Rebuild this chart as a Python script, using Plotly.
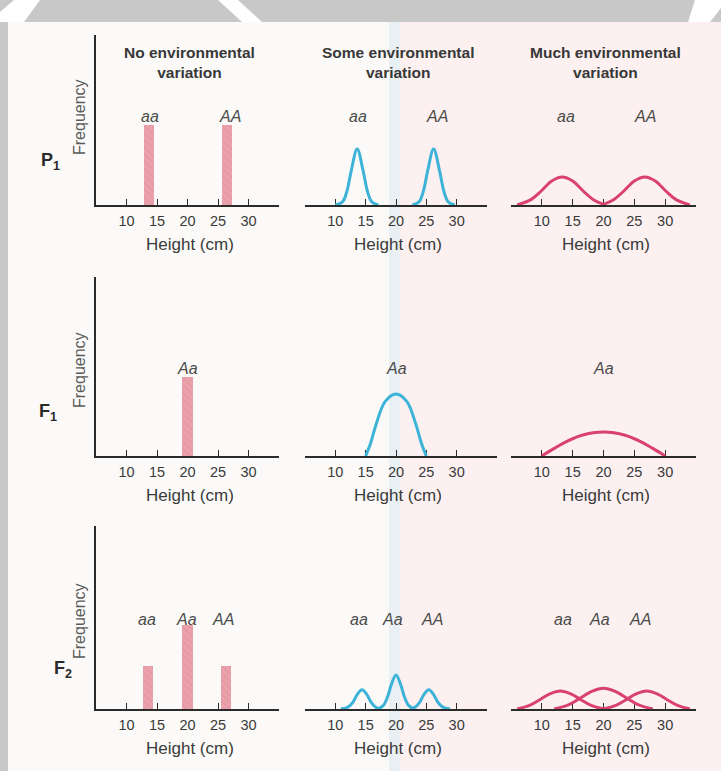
import plotly.graph_objects as go

# ---------------------------------------------------------------------------
# Data
# ---------------------------------------------------------------------------
COLUMN_TITLES = ["No environmental<br>variation",
                 "Some environmental<br>variation",
                 "Much environmental<br>variation"]
ROW_LABELS = ["P<sub>1</sub>", "F<sub>1</sub>", "F<sub>2</sub>"]
HEIGHT_TICKS = [10, 15, 20, 25, 30]
HEIGHT_RANGE = [5, 35]

# No environmental variation: one bar per genotype (height in cm, frequency)
P1_BAR_X = [13.7, 26.5]
P1_BAR_Y = [10.0, 10.0]
F1_BAR_X = [20.0]
F1_BAR_Y = [9.9]
F2_BAR_X = [13.5, 20.0, 26.3]
F2_BAR_Y = [5.4, 10.5, 5.4]

# Some environmental variation: narrow distributions (height, frequency)
P1_SOME_AA_LOW_X = [10.0, 11.2, 11.9, 12.6, 13.6, 14.6, 15.3, 16.0, 17.1]
P1_SOME_AA_LOW_Y = [0.0, 0.4, 1.7, 4.2, 7.0, 4.2, 1.7, 0.4, 0.0]
P1_SOME_AA_HIGH_X = [22.7, 23.8, 24.5, 25.2, 26.2, 27.2, 27.9, 28.6, 29.7]
P1_SOME_AA_HIGH_Y = [0.0, 0.4, 1.7, 4.2, 7.0, 4.2, 1.7, 0.4, 0.0]
F1_SOME_X = [15.0, 15.8, 16.7, 18.2, 20.0, 21.8, 23.3, 24.2, 25.0]
F1_SOME_Y = [0.0, 1.55, 3.9, 6.8, 7.75, 6.8, 3.9, 1.55, 0.0]
F2_SOME_LOW_X = [10.9, 12.1, 12.9, 13.6, 14.4, 15.2, 15.9, 16.6, 17.5]
F2_SOME_LOW_Y = [0.0, 0.24, 0.84, 1.8, 2.4, 1.8, 0.84, 0.24, 0.0]
F2_SOME_MID_X = [17.0, 17.9, 18.6, 19.3, 20.0, 20.7, 21.4, 22.1, 23.0]
F2_SOME_MID_Y = [0.0, 0.43, 1.5, 3.2, 4.25, 3.2, 1.5, 0.43, 0.0]
F2_SOME_HIGH_X = [22.3, 23.2, 23.9, 24.6, 25.4, 26.2, 26.9, 27.7, 28.9]
F2_SOME_HIGH_Y = [0.0, 0.24, 0.84, 1.8, 2.4, 1.8, 0.84, 0.24, 0.0]

# Much environmental variation: broad distributions (height, frequency)
P1_MUCH_LOW_X = [6.0, 8.3, 9.9, 11.6, 13.3, 15.0, 16.7, 18.3, 20.3]
P1_MUCH_LOW_Y = [0.0, 0.7, 1.75, 3.0, 3.5, 3.0, 1.75, 0.7, 0.0]
P1_MUCH_HIGH_X = [19.7, 21.7, 23.3, 25.0, 26.7, 28.4, 30.1, 31.7, 34.0]
P1_MUCH_HIGH_Y = [0.0, 0.7, 1.75, 3.0, 3.5, 3.0, 1.75, 0.7, 0.0]
F1_MUCH_X = [10.0, 12.0, 14.0, 16.5, 20.0, 23.5, 26.0, 28.0, 30.0]
F1_MUCH_Y = [0.0, 0.95, 1.8, 2.6, 3.0, 2.6, 1.8, 0.95, 0.0]
F2_MUCH_LOW_X = [6.0, 8.0, 9.6, 11.3, 13.0, 14.7, 16.4, 18.0, 20.0]
F2_MUCH_LOW_Y = [0.0, 0.45, 1.12, 1.9, 2.25, 1.9, 1.12, 0.45, 0.0]
F2_MUCH_MID_X = [12.0, 14.3, 16.1, 18.1, 20.0, 21.9, 23.9, 25.7, 28.0]
F2_MUCH_MID_Y = [0.0, 0.52, 1.3, 2.2, 2.6, 2.2, 1.3, 0.52, 0.0]
F2_MUCH_HIGH_X = [20.0, 22.0, 23.6, 25.3, 27.0, 28.7, 30.4, 32.0, 34.0]
F2_MUCH_HIGH_Y = [0.0, 0.45, 1.12, 1.9, 2.25, 1.9, 1.12, 0.45, 0.0]

# Genotype labels above each panel (text, height position in cm)
P1_GENOTYPES = ["aa", "AA"]
P1_GENO_X = [[13.8, 26.9], [13.7, 26.8], [13.9, 26.7]]
F1_GENOTYPES = ["Aa"]
F1_GENO_X = [[20.0], [20.0], [20.0]]
F2_GENOTYPES = ["aa", "Aa", "AA"]
F2_GENO_X = [[13.4, 19.9, 25.8], [13.9, 19.5, 25.9], [13.4, 19.4, 25.9]]

# ---------------------------------------------------------------------------
# Layout geometry (pixels in a 721 x 771 page)
# ---------------------------------------------------------------------------
W, H = 721, 771
COL_PX = [(96, 279), (305, 487), (511, 696)]
ROW_PX = [(35, 205), (277, 456), (526, 709)]   # (top, baseline)
PX_PER_UNIT = 8.0
GENO_LABEL_Y = [116, 368, 619]
FREQ_LABEL_Y = [117, 370, 621]
ROW_LABEL_POS = [(50, 161), (48, 412), (63, 669)]

AXIS = "#2b2b2b"
TEXT = "#3a3a3a"
BLUE = "#3cb3d7"
PINK = "#d9416f"
BAR = "#eba1ac"
FONT = "Liberation Sans, Arial, Helvetica, sans-serif"


def fx(x):
    return x / W


def fy(y):
    return 1 - y / H


fig = go.Figure()

bars = [(P1_BAR_X, P1_BAR_Y), (F1_BAR_X, F1_BAR_Y), (F2_BAR_X, F2_BAR_Y)]
some = [
    [(P1_SOME_AA_LOW_X, P1_SOME_AA_LOW_Y), (P1_SOME_AA_HIGH_X, P1_SOME_AA_HIGH_Y)],
    [(F1_SOME_X, F1_SOME_Y)],
    [(F2_SOME_LOW_X, F2_SOME_LOW_Y), (F2_SOME_MID_X, F2_SOME_MID_Y),
     (F2_SOME_HIGH_X, F2_SOME_HIGH_Y)],
]
much = [
    [(P1_MUCH_LOW_X, P1_MUCH_LOW_Y), (P1_MUCH_HIGH_X, P1_MUCH_HIGH_Y)],
    [(F1_MUCH_X, F1_MUCH_Y)],
    [(F2_MUCH_LOW_X, F2_MUCH_LOW_Y), (F2_MUCH_MID_X, F2_MUCH_MID_Y),
     (F2_MUCH_HIGH_X, F2_MUCH_HIGH_Y)],
]
genotypes = [(P1_GENOTYPES, P1_GENO_X), (F1_GENOTYPES, F1_GENO_X),
             (F2_GENOTYPES, F2_GENO_X)]

annotations = []
layout_axes = {}

for r in range(3):
    top, base = ROW_PX[r]
    for c in range(3):
        k = r * 3 + c + 1
        xa = "x" if k == 1 else f"x{k}"
        ya = "y" if k == 1 else f"y{k}"
        xkey = "xaxis" if k == 1 else f"xaxis{k}"
        ykey = "yaxis" if k == 1 else f"yaxis{k}"
        x0, x1 = COL_PX[c]
        if r == 1 and c == 1:
            x1 = 497
        layout_axes[xkey] = dict(
            domain=[fx(x0), fx(x1)],
            range=[HEIGHT_RANGE[0], HEIGHT_RANGE[0] + (HEIGHT_RANGE[1] - HEIGHT_RANGE[0])
                   * (x1 - x0) / (COL_PX[c][1] - COL_PX[c][0])],
            anchor=ya,
            showline=True, linecolor=AXIS, linewidth=2,
            ticks="inside", ticklen=6, tickwidth=1.3, tickcolor=AXIS,
            tickvals=HEIGHT_TICKS, ticktext=[str(t) for t in HEIGHT_TICKS],
            tickfont=dict(family=FONT, size=14.5, color=TEXT),
            ticklabelstandoff=2,
            showgrid=False, zeroline=False, fixedrange=True, layer="below traces",
        )
        layout_axes[ykey] = dict(
            domain=[fy(base), fy(top)], range=[0, (base - top) / PX_PER_UNIT],
            anchor=xa, showline=(c == 0), linecolor=AXIS, linewidth=2,
            ticks="", showticklabels=False, showgrid=False, zeroline=False,
            fixedrange=True, layer="below traces",
        )

        if c == 0:
            bx, by = bars[r]
            fig.add_trace(go.Bar(
                x=bx, y=by, width=1.7, xaxis=xa, yaxis=ya,
                marker=dict(color=BAR, line=dict(width=0),
                            pattern=dict(shape="\\", fgcolor="#d98896",
                                         fgopacity=0.45, size=5, solidity=0.25)),
                showlegend=False, hoverinfo="skip",
            ))
        else:
            curves = some[r] if c == 1 else much[r]
            color = BLUE if c == 1 else PINK
            for cx, cy in curves:
                fig.add_trace(go.Scatter(
                    x=cx, y=cy, mode="lines", xaxis=xa, yaxis=ya,
                    line=dict(color=color, width=3, shape="spline", smoothing=1.0),
                    cliponaxis=False, showlegend=False, hoverinfo="skip",
                ))

        names, gx = genotypes[r]
        for name, xpos in zip(names, gx[c]):
            annotations.append(dict(
                x=xpos, xref=xa, y=fy(GENO_LABEL_Y[r]), yref="paper",
                text=f"<i>{name}</i>", showarrow=False,
                font=dict(family=FONT, size=16, color="#4a4a4a"),
                xanchor="center", yanchor="middle",
            ))

        cx_mid = (COL_PX[c][0] + COL_PX[c][1]) / 2
        annotations.append(dict(
            x=fx(cx_mid + 2), xref="paper", y=fy(base + 39), yref="paper",
            text="Height (cm)", showarrow=False,
            font=dict(family=FONT, size=17, color=TEXT),
            xanchor="center", yanchor="middle",
        ))

    # y-axis title and generation label for the row
    annotations.append(dict(
        x=fx(79), xref="paper", y=fy(FREQ_LABEL_Y[r]), yref="paper",
        text="Frequency", textangle=-90, showarrow=False,
        font=dict(family=FONT, size=16, color="#5a5a5a"),
        xanchor="center", yanchor="middle",
    ))
    lx, ly = ROW_LABEL_POS[r]
    annotations.append(dict(
        x=fx(lx), xref="paper", y=fy(ly), yref="paper",
        text=f"<b>{ROW_LABELS[r]}</b>", showarrow=False,
        font=dict(family=FONT, size=18, color="#2a2a2a"),
        xanchor="center", yanchor="middle",
    ))

# column headings
for c, title in enumerate(COLUMN_TITLES):
    x0, x1 = COL_PX[c]
    annotations.append(dict(
        x=fx((x0 + x1) / 2 + 2), xref="paper", y=fy(62), yref="paper",
        text=f"<b>{title}</b>", showarrow=False,
        font=dict(family=FONT, size=15.5, color="#383838"),
        xanchor="center", yanchor="middle",
    ))

# page background: grey scanner border, white page, tinted right-hand panel
shapes = [
    dict(type="rect", xref="paper", yref="paper", x0=fx(400), x1=1,
         y0=0, y1=fy(22), fillcolor="#fcf0f0", line=dict(width=0), layer="below"),
    dict(type="rect", xref="paper", yref="paper", x0=fx(389), x1=fx(400),
         y0=0, y1=fy(22), fillcolor="#e9f0f3", line=dict(width=0), layer="below"),
    dict(type="rect", xref="paper", yref="paper", x0=0, x1=1,
         y0=fy(22), y1=1, fillcolor="#c8c8c8", line=dict(width=0), layer="below"),
    dict(type="rect", xref="paper", yref="paper", x0=0, x1=fx(8),
         y0=0, y1=1, fillcolor="#c8c8c8", line=dict(width=0), layer="below"),
]


def band(points):
    path = "M " + " L ".join(f"{fx(px)},{fy(py)}" for px, py in points) + " Z"
    return dict(type="path", xref="paper", yref="paper", path=path,
                fillcolor="#ffffff", line=dict(width=0), layer="below")


shapes += [
    band([(14, 0), (40, 0), (24, 22), (0, 22), (0, 12)]),
    band([(218, 0), (238, 0), (262, 22), (242, 22)]),
    band([(695, 0), (721, 0), (721, 8), (710, 22), (688, 22)]),
]

fig.update_layout(
    width=W, height=H, margin=dict(l=0, r=0, t=0, b=0),
    paper_bgcolor="#fbfaf8", plot_bgcolor="rgba(0,0,0,0)",
    showlegend=False, bargap=0,
    annotations=annotations, shapes=shapes,
    **layout_axes,
)

fig.write_html("out.html")
